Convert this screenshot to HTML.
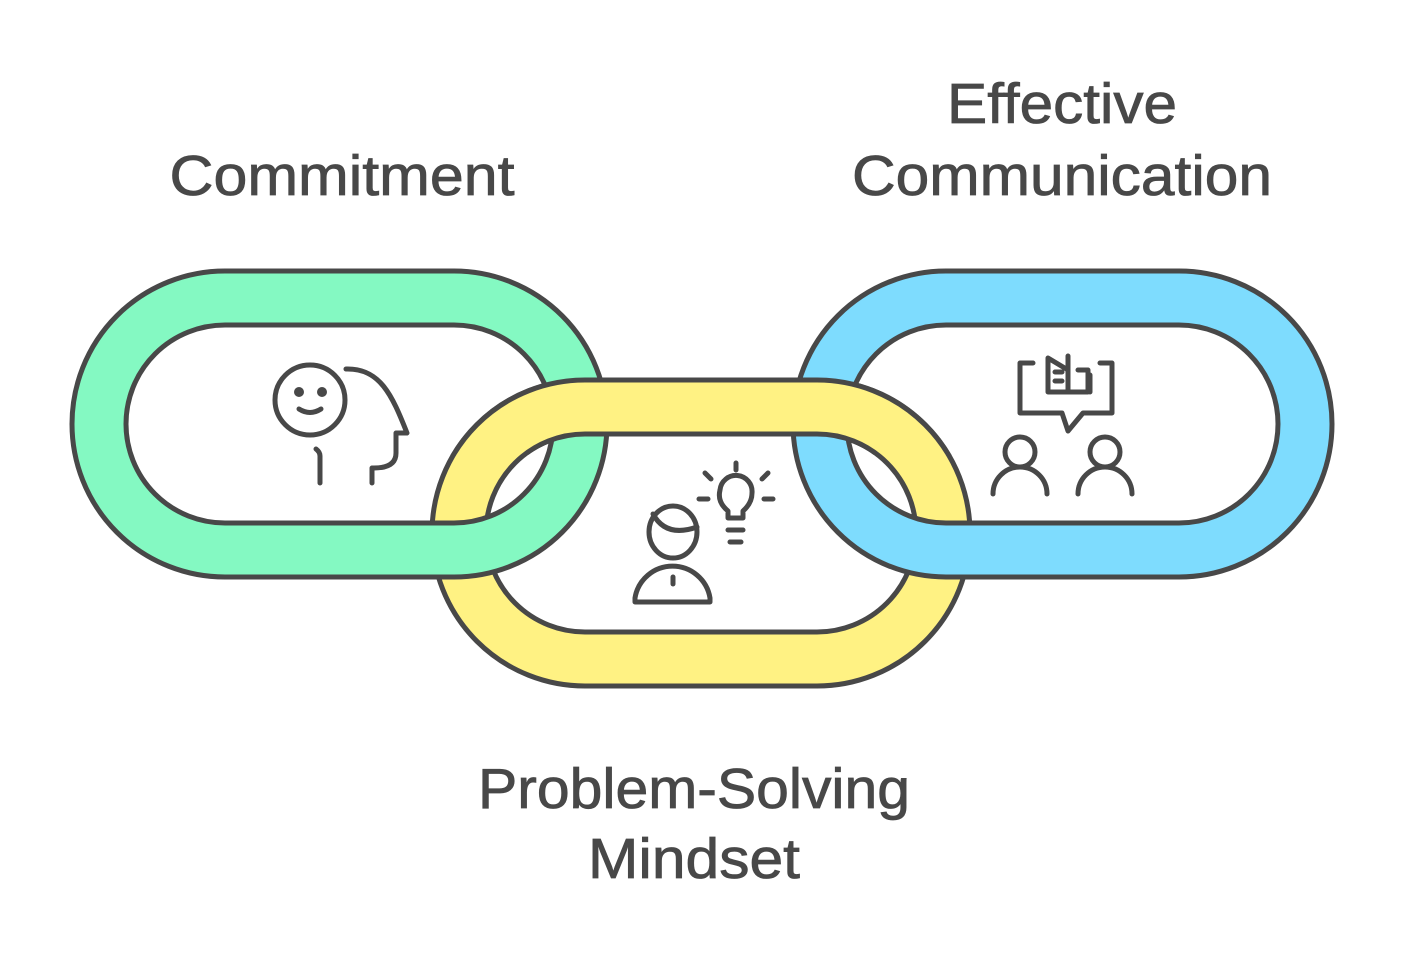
<!DOCTYPE html>
<html><head><meta charset="utf-8"><style>
html,body{margin:0;padding:0;background:#fff;}
svg{display:block;}
text{font-family:"Liberation Sans",sans-serif;fill:#484848;font-size:57px;text-anchor:middle;stroke:#484848;stroke-width:0.8;}
</style></head><body>
<svg width="1404" height="963" viewBox="0 0 1404 963" xmlns="http://www.w3.org/2000/svg">
<defs>
<clipPath id="top"><rect x="0" y="0" width="1404" height="455"/></clipPath>
</defs>
<g stroke="#484848" stroke-width="5" fill-rule="evenodd">
<path fill="#FFF283" d="M585,380 H817 A153,153 0 0 1 817,686 H585 A153,153 0 0 1 585,380 Z M585,434 H817 A99,99 0 0 1 817,632 H585 A99,99 0 0 1 585,434 Z"/>
<path fill="#84F9C2" d="M225,271 H454 A153,153 0 0 1 454,577 H225 A153,153 0 0 1 225,271 Z M225,325 H454 A99,99 0 0 1 454,523 H225 A99,99 0 0 1 225,325 Z"/>
<path fill="#7EDCFE" d="M946,271 H1179 A153,153 0 0 1 1179,577 H946 A153,153 0 0 1 946,271 Z M946,325 H1179 A99,99 0 0 1 1179,523 H946 A99,99 0 0 1 946,325 Z"/>
<g clip-path="url(#top)"><path fill="#FFF283" d="M585,380 H817 A153,153 0 0 1 817,686 H585 A153,153 0 0 1 585,380 Z M585,434 H817 A99,99 0 0 1 817,632 H585 A99,99 0 0 1 585,434 Z"/></g>
</g>
<g fill="none" stroke="#484848" stroke-width="5" stroke-linecap="round" stroke-linejoin="round">
<circle cx="310" cy="400" r="35"/>
<circle cx="299" cy="392" r="2.5" fill="#484848"/>
<circle cx="322" cy="392" r="2.5" fill="#484848"/>
<path d="M299,409 Q310,416 321,409"/>
<path d="M316,449 Q320,452 320,456 V483"/>
<path d="M346,369 C380,368 392,395 407,433 H396 V453 Q396,468 374,468 H372 V483"/>
<ellipse cx="673" cy="532" rx="24" ry="26"/>
<path d="M653,514 Q666,538 697,527"/>
<path d="M635,602 V598 A38,38 0 0 1 710,598 V602 Z"/>
<path d="M673,577 V584"/>
<path d="M743,511 V518 H728 V511 Q717,502 720,490 A16,16 0 0 1 752,493 Q752,503 743,511 Z"/>
<path d="M728,530 H743 M730,542 H741"/>
<path d="M736,463 V470 M705,473 L711,479 M768,473 L762,479 M699,499 H708 M764,499 H773"/>
<path d="M1033,363 H1020 V413 H1062 L1068,431 L1083,413 H1112 V363 H1100"/>
<path d="M1048,358 L1068,370 V392 H1048 Z M1068,370 V392 H1088 V370 H1078 M1068,356 V392 M1055,372 H1062 M1055,381 H1062 M1090,375 V392"/>
<circle cx="1020" cy="452" r="15"/>
<path d="M993,494 A27,27 0 0 1 1047,494"/>
<circle cx="1105" cy="452" r="15"/>
<path d="M1078,494 A27,27 0 0 1 1132,494"/>
</g>
<text x="342" y="195" textLength="345" lengthAdjust="spacingAndGlyphs">Commitment</text>
<text x="1062" y="123" textLength="230" lengthAdjust="spacingAndGlyphs">Effective</text>
<text x="1062" y="195" textLength="420" lengthAdjust="spacingAndGlyphs">Communication</text>
<text x="694" y="808" textLength="432" lengthAdjust="spacingAndGlyphs">Problem-Solving</text>
<text x="694" y="878" textLength="212" lengthAdjust="spacingAndGlyphs">Mindset</text>
</svg>
</body></html>
